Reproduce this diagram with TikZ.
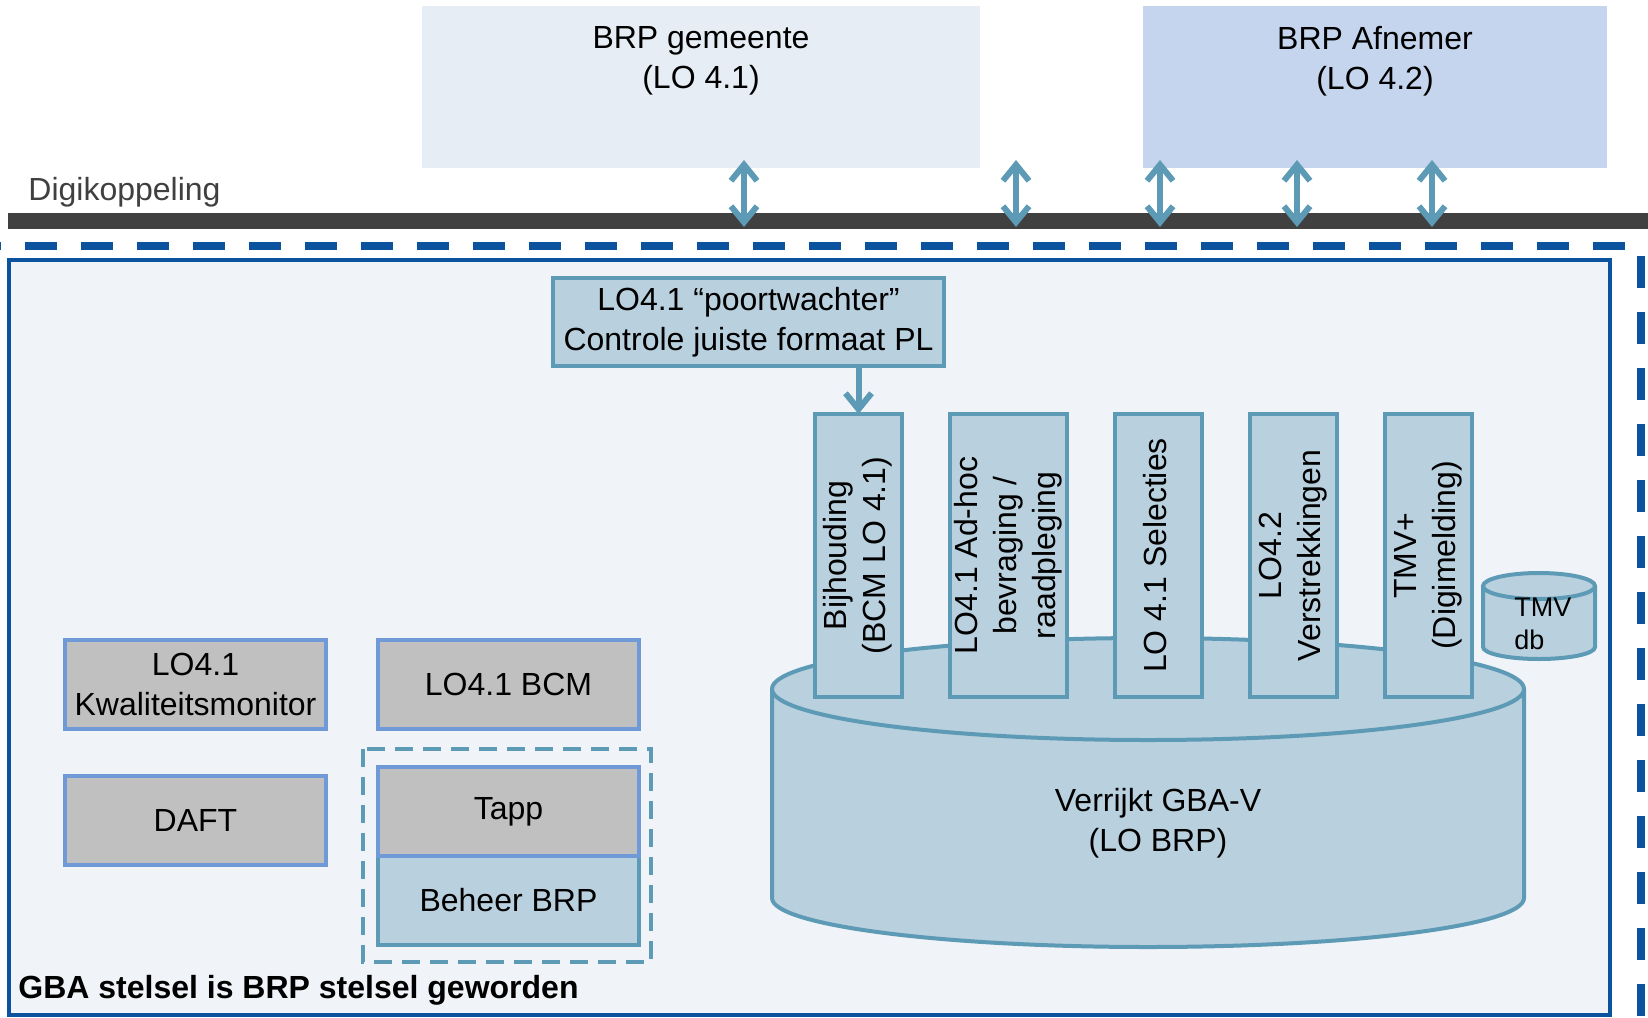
\documentclass[tikz,border=0pt]{standalone}
\usepackage{fontspec}
\setmainfont{Liberation Sans}
\usetikzlibrary{positioning,arrows.meta}
\definecolor{gemfill}{HTML}{E6EDF4}
\definecolor{afnfill}{HTML}{C5D5ED}
\definecolor{bardark}{HTML}{404040}
\definecolor{stelblue}{HTML}{0B539E}
\definecolor{stelfill}{HTML}{F0F4F8}
\definecolor{colfill}{HTML}{B9D0DE}
\definecolor{colline}{HTML}{5D9AB5}
\definecolor{grayfill}{HTML}{C0C0C0}
\definecolor{grayline}{HTML}{7099D7}
\newcommand{\bodyfont}{\fontsize{16}{20}\selectfont}
\newcommand{\dbfont}{\fontsize{13.5}{16.5}\selectfont}
\newcommand{\vlabel}[1]{\rotatebox{90}{\def\arraystretch{0.97}%
  \begin{tabular}{@{}c@{}}#1\end{tabular}}}
\tikzset{
  topbox/.style={rectangle, minimum height=81pt, inner sep=0pt, outer sep=0pt},
  toplabel/.style={anchor=north, yshift=-10pt, inner sep=0pt, align=center},
  colbox/.style={rectangle, draw=colline, fill=colfill, line width=2pt,
    minimum width=43.5pt, minimum height=141.5pt, inner sep=0pt, outer sep=0pt},
  boxgray/.style={rectangle, draw=grayline, fill=grayfill, line width=2pt,
    minimum width=130.5pt, minimum height=44.5pt, inner sep=0pt, outer sep=0pt,
    align=center},
  boxblue/.style={boxgray, draw=colline, fill=colfill},
  link/.style={draw=colline, line width=3pt, -{Straight Barb[length=8pt,width=13pt]}},
  duplex/.style={draw=colline, line width=3pt,
    {Straight Barb[length=8pt,width=13pt]}-{Straight Barb[length=8pt,width=13pt]}},
  outerdash/.style={draw=stelblue, line width=4pt, dash pattern=on 16pt off 12pt},
  groupdash/.style={draw=colline, line width=2pt, dash pattern=on 9pt off 5pt},
  dbshape/.style={draw=colline, fill=colfill, line width=2pt},
}
\begin{document}
\begin{tikzpicture}[x=0.5pt, y=-0.5pt, font=\bodyfont, node distance=24pt]
\useasboundingbox[fill=white] (0,0) rectangle (1648,1017);
% afnemers en digikoppeling
\node[topbox, fill=gemfill, minimum width=279pt,
  label={[toplabel]north:BRP gemeente\\(LO 4.1)}] (gem) at (701,87) {};
\node[topbox, fill=afnfill, minimum width=232pt,
  label={[toplabel]north:BRP Afnemer\\(LO 4.2)}] (afn) at (1375,87) {};
\node[fill=bardark, minimum width=820pt, minimum height=8pt, inner sep=0pt,
  outer sep=0pt, anchor=west] (bar) at (8,221) {};
\node[text=bardark, anchor=base west, inner sep=0pt] (digi) at (28,200) {Digikoppeling};
\foreach \x [count=\i] in {744,1016,1160,1297,1432} {
  \coordinate (up\i) at (\x,160);
  \coordinate (dn\i) at (\x,227);
  \draw[duplex] (up\i) -- (dn\i);
}
% stelsel
\draw[outerdash] (-31,246) -- (1641,246);
\draw[outerdash] (1641,256) -- (1641,1040);
\draw[draw=stelblue, fill=stelfill, line width=2pt] (9,260) rectangle (1610,1015);
% verrijkt GBA-V
\filldraw[dbshape] (772,689) -- (772,898)
  arc[start angle=180, end angle=0, x radius=376, y radius=49] -- (1524,689);
\filldraw[dbshape] (1148,689) ellipse[x radius=376, y radius=51];
\node[align=center] (gbav) at (1158,823) {Verrijkt GBA-V\\(LO BRP)};
% functies
\node[colbox] (bij) at (858.5,555.5) {\vlabel{Bijhouding\\(BCM LO 4.1)}};
\node[colbox, minimum width=58.5pt, right=of bij] (adhoc)
  {\vlabel{LO4.1 Ad-hoc\\bevraging /\\raadpleging}};
\node[colbox, right=of adhoc] (sel) {\vlabel{LO 4.1 Selecties}};
\node[colbox, right=of sel] (verstr) {\vlabel{LO4.2\\Verstrekkingen}};
\node[colbox, right=of verstr] (tmv) {\vlabel{TMV+\\(Digimelding)}};
\node[colbox, minimum width=195.5pt, minimum height=44pt, align=center] (poort)
  at (748.5,322) {LO4.1 “poortwachter”\\Controle juiste formaat PL};
\draw[link] (poort.south -| bij.north) -- (bij.north);
% TMV db
\filldraw[dbshape] (1483,586) -- (1483,647)
  arc[start angle=180, end angle=0, x radius=56, y radius=12] -- (1595,586);
\filldraw[dbshape] (1539,586) ellipse[x radius=56, y radius=13];
\node[font=\dbfont, align=left, anchor=west, inner sep=0pt] (tmvdb) at (1514,624) {TMV\\db};
% beheer
\node[boxgray] (kwal) at (195.5,684) {LO4.1\\Kwaliteitsmonitor};
\node[boxgray, right=26pt of kwal] (bcm) {LO4.1 BCM};
\node[boxgray, below=23.5pt of kwal] (daft) {DAFT};
\node[boxblue] (beheer) at (508.5,900.5) {Beheer BRP};
\node[boxgray, above=0pt of beheer] (tapp) {Tapp};
\draw[groupdash] (363,749) rectangle (651,962);
\node[font=\bfseries\fontsize{16}{19}\selectfont, anchor=base west, inner sep=0pt]
  (gba) at (18,998) {GBA stelsel is BRP stelsel geworden};
\end{tikzpicture}
\end{document}
